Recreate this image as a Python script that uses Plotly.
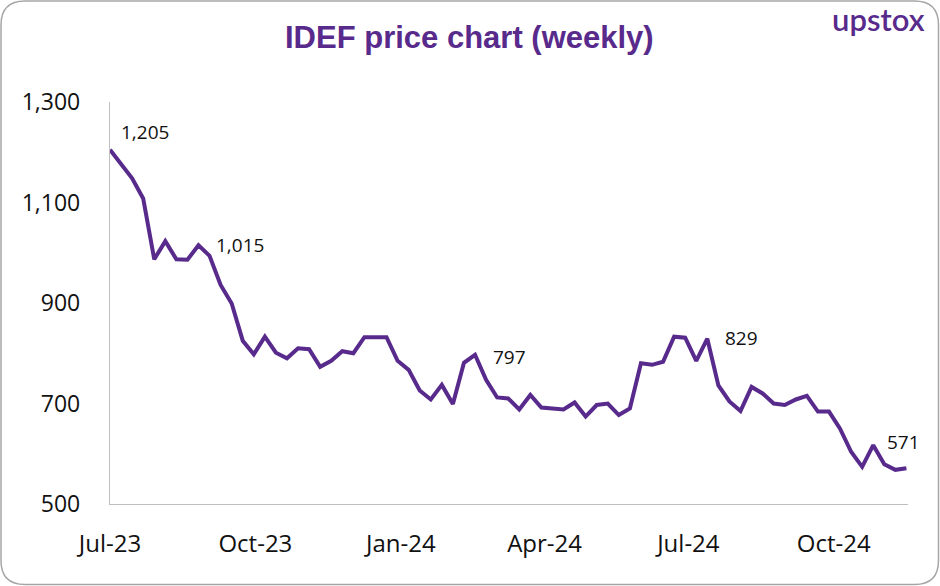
import plotly.graph_objects as go
import pandas as pd

# ---- data ----
start_date = "2023-07-01"
prices = [1205, 1175, 1148, 1108, 987, 1023, 987, 986, 1015, 994,
          936, 899, 825, 798, 833, 801, 790, 810, 808, 773,
          785, 804, 800, 832, 832, 832, 785, 767, 726, 708,
          737, 699, 781, 797, 747, 712, 710, 688, 717, 692,
          690, 688, 702, 674, 697, 700, 677, 690, 780, 777,
          783, 833, 831, 785, 829, 736, 704, 685, 733, 720,
          700, 697, 708, 715, 684, 684, 650, 604, 574, 617,
          579, 568, 571]
dates = pd.date_range(start_date, periods=len(prices), freq="7D")

tick_dates = ["2023-07-01", "2023-10-01", "2024-01-01", "2024-04-01", "2024-07-01", "2024-10-01"]
tick_labels = ["Jul-23", "Oct-23", "Jan-24", "Apr-24", "Jul-24", "Oct-24"]
y_ticks = [500, 700, 900, 1100, 1300]
y_tick_labels = ["500", "700", "900", "1,100", "1,300"]

# labelled points: (index, xshift, yshift)
labelled = [(0, 35, 18), (8, 42, 0), (33, 34, -2), (54, 34, 1), (72, -3, 26)]

# ---- layout constants ----
W, H = 940, 586
L, R, T, B = 110, 32, 102, 82
PW, PH = W - L - R, H - T - B
purple = "#582A8C"
axis_gray = "#BFBFBF"
font_family = "Open Sans, Noto Sans, sans-serif"

fig = go.Figure()
fig.add_trace(go.Scatter(
    x=dates, y=prices, mode="lines",
    line=dict(color=purple, width=4), hoverinfo="x+y", showlegend=False,
))

for idx, dx, dy in labelled:
    fig.add_annotation(
        x=dates[idx], y=prices[idx], text=f"{prices[idx]:,}", showarrow=False,
        xshift=dx, yshift=dy, font=dict(family=font_family, size=19, color="#111111"),
    )

def px(x):
    return (x - L) / PW

def py(y):
    return (H - B - y) / PH

# rounded border around the whole image
x0, x1, y0, y1, r = 1, W - 1.5, 1, H - 1.5, 24
path = (
    f"M {px(x0 + r)},{py(y0)} L {px(x1 - r)},{py(y0)} "
    f"Q {px(x1)},{py(y0)} {px(x1)},{py(y0 + r)} "
    f"L {px(x1)},{py(y1 - r)} Q {px(x1)},{py(y1)} {px(x1 - r)},{py(y1)} "
    f"L {px(x0 + r)},{py(y1)} Q {px(x0)},{py(y1)} {px(x0)},{py(y1 - r)} "
    f"L {px(x0)},{py(y0 + r)} Q {px(x0)},{py(y0)} {px(x0 + r)},{py(y0)} Z"
)
fig.add_shape(type="path", path=path, xref="paper", yref="paper",
              line=dict(color="#A6A6A6", width=1.5), layer="above")

# title
fig.add_annotation(
    text="<b>IDEF price chart (weekly)</b>", xref="paper", yref="paper",
    x=px(469), y=py(37), showarrow=False, xanchor="center", yanchor="middle",
    font=dict(family="Liberation Sans, Arial, sans-serif", size=31, color=purple),
)
# logo
fig.add_annotation(
    text="upstox", xref="paper", yref="paper",
    x=px(878), y=py(19), showarrow=False, xanchor="center", yanchor="middle",
    font=dict(family="Lato, Inter, sans-serif", size=31, color=purple, weight=600),
)

fig.update_layout(
    width=W, height=H,
    margin=dict(l=L, r=R, t=T, b=B, autoexpand=False),
    paper_bgcolor="white", plot_bgcolor="white",
    font=dict(family=font_family, size=23, color="#111111"),
    xaxis=dict(
        type="date", range=[dates[0], dates[-1] + pd.Timedelta(days=1)],
        tickvals=tick_dates, ticktext=tick_labels,
        showgrid=False, zeroline=False, showline=True, linecolor=axis_gray, linewidth=1.3,
        ticks="", ticklabelstandoff=18, tickfont=dict(size=24),
    ),
    yaxis=dict(
        range=[500, 1300], tickvals=y_ticks, ticktext=y_tick_labels,
        showgrid=False, zeroline=False, showline=True, linecolor=axis_gray, linewidth=1.3,
        ticks="", ticklabelstandoff=24, tickfont=dict(size=23),
    ),
)

fig.write_html("out.html", config={"displayModeBar": False},
               post_script="document.body.style.margin='0';")
